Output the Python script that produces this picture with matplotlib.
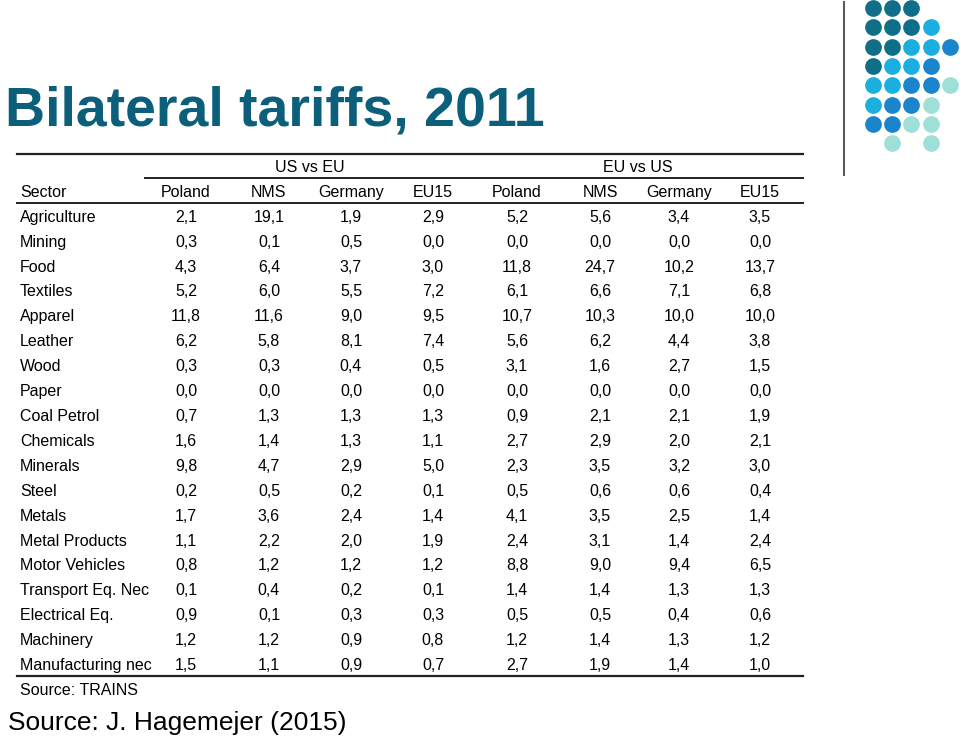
import matplotlib
matplotlib.use("Agg")
import matplotlib.pyplot as plt

# table data
sectors = ["Agriculture", "Mining", "Food", "Textiles", "Apparel", "Leather", "Wood",
           "Paper", "Coal Petrol", "Chemicals", "Minerals", "Steel", "Metals",
           "Metal Products", "Motor Vehicles", "Transport Eq. Nec", "Electrical Eq.",
           "Machinery", "Manufacturing nec"]
columns = ["Poland", "NMS", "Germany", "EU15", "Poland", "NMS", "Germany", "EU15"]
groups = ["US vs EU", "EU vs US"]

us_vs_eu = [
    [2.1, 19.1, 1.9, 2.9], [0.3, 0.1, 0.5, 0.0], [4.3, 6.4, 3.7, 3.0],
    [5.2, 6.0, 5.5, 7.2], [11.8, 11.6, 9.0, 9.5], [6.2, 5.8, 8.1, 7.4],
    [0.3, 0.3, 0.4, 0.5], [0.0, 0.0, 0.0, 0.0], [0.7, 1.3, 1.3, 1.3],
    [1.6, 1.4, 1.3, 1.1], [9.8, 4.7, 2.9, 5.0], [0.2, 0.5, 0.2, 0.1],
    [1.7, 3.6, 2.4, 1.4], [1.1, 2.2, 2.0, 1.9], [0.8, 1.2, 1.2, 1.2],
    [0.1, 0.4, 0.2, 0.1], [0.9, 0.1, 0.3, 0.3], [1.2, 1.2, 0.9, 0.8],
    [1.5, 1.1, 0.9, 0.7],
]
eu_vs_us = [
    [5.2, 5.6, 3.4, 3.5], [0.0, 0.0, 0.0, 0.0], [11.8, 24.7, 10.2, 13.7],
    [6.1, 6.6, 7.1, 6.8], [10.7, 10.3, 10.0, 10.0], [5.6, 6.2, 4.4, 3.8],
    [3.1, 1.6, 2.7, 1.5], [0.0, 0.0, 0.0, 0.0], [0.9, 2.1, 2.1, 1.9],
    [2.7, 2.9, 2.0, 2.1], [2.3, 3.5, 3.2, 3.0], [0.5, 0.6, 0.6, 0.4],
    [4.1, 3.5, 2.5, 1.4], [2.4, 3.1, 1.4, 2.4], [8.8, 9.0, 9.4, 6.5],
    [1.4, 1.4, 1.3, 1.3], [0.5, 0.5, 0.4, 0.6], [1.2, 1.4, 1.3, 1.2],
    [2.7, 1.9, 1.4, 1.0],
]

# decorative dot pattern (row, col, colour key)
dot_rows = [0, 0, 0, 1, 1, 1, 1, 2, 2, 2, 2, 2, 3, 3, 3, 3, 4, 4, 4, 4, 4,
            5, 5, 5, 5, 6, 6, 6, 6, 7, 7]
dot_cols = [0, 1, 2, 0, 1, 2, 3, 0, 1, 2, 3, 4, 0, 1, 2, 3, 0, 1, 2, 3, 4,
            0, 1, 2, 3, 0, 1, 2, 3, 1, 3]
dot_keys = "DDDDDDCDDCCBDCCBCCBBLCBBLBBLLLL"
dot_colors = {"D": "#0f6f88", "C": "#1aafe0", "B": "#1a84cc", "L": "#9edfd7"}

tfont = "Liberation Sans"

fig = plt.figure(figsize=(9.6, 7.41), dpi=100)
ax = fig.add_axes([0, 0, 1, 1])
ax.set_xlim(0, 960)
ax.set_ylim(741, 0)
ax.axis("off")

# title
ax.text(5, 111, "Bilateral tariffs, 2011", fontsize=40, fontweight="bold",
        color="#0b5f7a", family=tfont, va="center", ha="left")

# decoration
ax.plot([844, 844], [2, 175], color="#5a5a5a", lw=1.5)
for r, c, k in zip(dot_rows, dot_cols, dot_keys):
    ax.scatter(873 + c * 19.2, 8 + r * 19.3, s=145, color=dot_colors[k], lw=0)

# table
col_x = [186, 269, 351, 433, 517, 600, 679, 760]
fs = 11.5
base = 5.8  # centre -> baseline offset in px
ax.plot([17, 803], [154, 154], color="#222222", lw=1.6)
ax.plot([145, 803], [178, 178], color="#222222", lw=1.4)
ax.plot([17, 803], [203, 203], color="#222222", lw=1.4)

ax.text(310, 166 + base, groups[0], fontsize=fs, family=tfont,
        ha="center", va="baseline")
ax.text(638, 166 + base, groups[1], fontsize=fs, family=tfont,
        ha="center", va="baseline")

ax.text(20, 191 + base, "Sector", fontsize=fs, family=tfont,
        ha="left", va="baseline")
for x, name in zip(col_x, columns):
    ax.text(x, 191 + base, name, fontsize=fs, family=tfont,
            ha="center", va="baseline")

row_y0, row_h = 216, 24.9
for i, sec in enumerate(sectors):
    y = row_y0 + i * row_h + base
    ax.text(20, y, sec, fontsize=fs, family=tfont, ha="left", va="baseline")
    vals = us_vs_eu[i] + eu_vs_us[i]
    for x, v in zip(col_x, vals):
        ax.text(x, y, f"{v:.1f}".replace(".", ","), fontsize=fs, family=tfont,
                ha="center", va="baseline")

ax.plot([17, 803], [676, 676], color="#222222", lw=1.6)
ax.text(20, 689 + base, "Source: TRAINS", fontsize=fs, family=tfont,
        ha="left", va="baseline")

ax.text(8, 723, "Source: J. Hagemejer (2015)", fontsize=19,
        family=tfont, ha="left", va="center")

fig.savefig("out.png", dpi=100)
